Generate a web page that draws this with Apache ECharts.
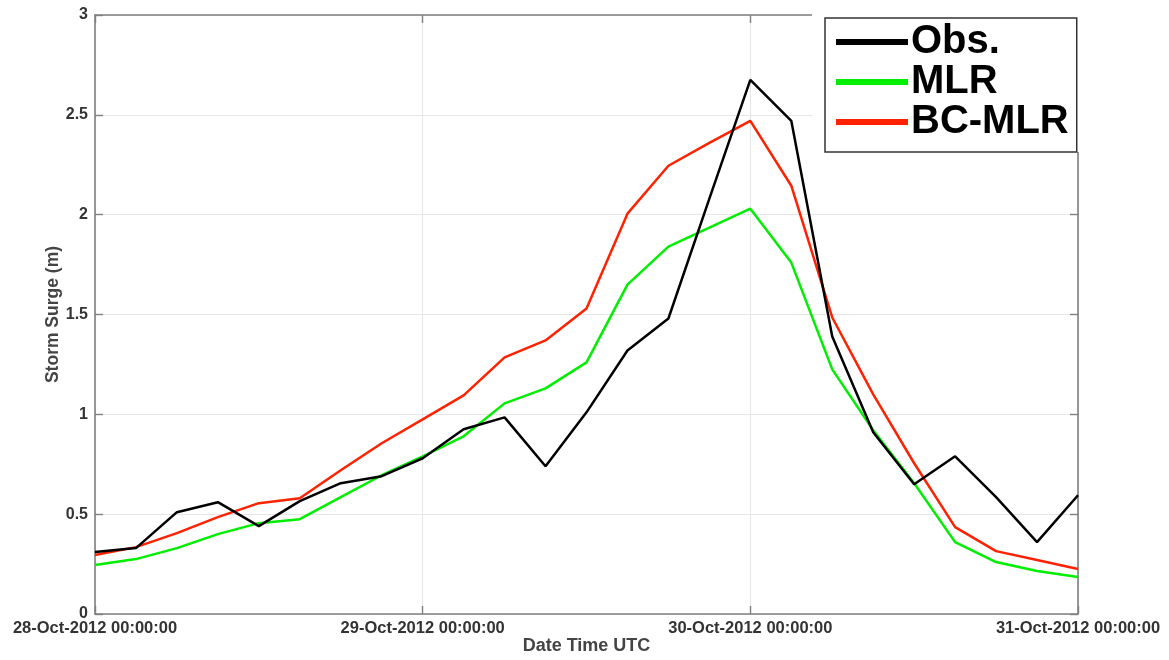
<!DOCTYPE html>
<html>
<head>
<meta charset="utf-8">
<title>Storm Surge</title>
<script src="https://cdn.jsdelivr.net/npm/echarts@6/dist/echarts.min.js"></script>
<style>
  html, body { margin: 0; padding: 0; background: #fff; }
  #chart { width: 1169px; height: 660px; }
</style>
</head>
<body>
<div id="chart"></div>
<script>
// Hours since 28-Oct-2012 00:00 UTC, 3-hourly samples
const hours = [0, 3, 6, 9, 12, 15, 18, 21, 24, 27, 30, 33, 36, 39, 42, 45, 48, 51, 54, 57, 60, 63, 66, 69, 72];

// Storm surge (m)
const obs   = [0.31, 0.33, 0.51, 0.56, 0.44, 0.565, 0.655, 0.69, 0.78, 0.925, 0.985, 0.74, 1.01, 1.32, 1.48, 2.08, 2.675, 2.47, 1.39, 0.91, 0.65, 0.79, 0.585, 0.36, 0.595];
const mlr   = [0.245, 0.275, 0.33, 0.40, 0.455, 0.475, 0.585, 0.695, 0.79, 0.89, 1.055, 1.13, 1.26, 1.65, 1.84, 1.935, 2.03, 1.76, 1.225, 0.92, 0.655, 0.36, 0.26, 0.215, 0.185];
const bcmlr = [0.295, 0.335, 0.405, 0.485, 0.555, 0.58, 0.72, 0.855, 0.975, 1.095, 1.285, 1.37, 1.53, 2.005, 2.245, 2.36, 2.47, 2.145, 1.485, 1.10, 0.755, 0.435, 0.315, 0.27, 0.225];

// Date tick labels every 24 h
const xTickHours  = [0, 24, 48, 72];
const xTickLabels = ['28-Oct-2012 00:00:00', '29-Oct-2012 00:00:00', '30-Oct-2012 00:00:00', '31-Oct-2012 00:00:00'];

const seriesNames  = ['Obs.', 'MLR', 'BC-MLR'];
const seriesColors = ['#000000', '#00ee00', '#ff2200'];

const pair = (ys) => hours.map((h, i) => [h, ys[i]]);

const FONT = '"Liberation Sans", Arial, Helvetica, sans-serif';
const AXIS_COLOR = '#808080';
const GRID_COLOR = '#e6e6e6';

const chart = echarts.init(document.getElementById('chart'), null, { renderer: 'canvas' });

const baseX = {
  type: 'value', min: 0, max: 72, interval: 24,
  axisLine: { show: true, onZero: false, lineStyle: { color: AXIS_COLOR, width: 1.6 } },
  axisTick: { show: true, inside: true, length: 8, lineStyle: { color: AXIS_COLOR, width: 1.4 } },
  splitLine: { show: false }
};
const baseY = {
  type: 'value', min: 0, max: 3, interval: 0.5,
  axisLine: { show: true, onZero: false, lineStyle: { color: AXIS_COLOR, width: 1.6 } },
  axisTick: { show: true, inside: true, length: 8, lineStyle: { color: AXIS_COLOR, width: 1.4 } },
  splitLine: { show: false }
};

chart.setOption({
  animation: false,
  backgroundColor: '#ffffff',
  grid: { left: 95, right: 91, top: 15, bottom: 46, containLabel: false, outerBoundsMode: 'none' },
  xAxis: [
    Object.assign({}, baseX, {
      position: 'bottom',
      name: 'Date Time UTC',
      nameLocation: 'middle',
      nameGap: 23,
      nameMoveOverlap: false,
      nameTextStyle: { fontFamily: FONT, fontSize: 18, fontWeight: 'bold', color: '#444' },
      axisLabel: {
        show: true, margin: 6, fontFamily: FONT, fontSize: 16.5, fontWeight: 'bold', color: '#333',
        formatter: (v) => { const k = xTickHours.indexOf(v); return k >= 0 ? xTickLabels[k] : ''; }
      },
      splitLine: { show: true, lineStyle: { color: GRID_COLOR, width: 1.2 } }
    }),
    Object.assign({}, baseX, {
      position: 'top',
      axisLabel: { show: false }
    })
  ],
  yAxis: [
    Object.assign({}, baseY, {
      position: 'left',
      name: 'Storm Surge (m)',
      nameLocation: 'middle',
      nameGap: 33,
      nameMoveOverlap: false,
      nameTextStyle: { fontFamily: FONT, fontSize: 17.5, fontWeight: 'bold', color: '#444' },
      axisLabel: { show: true, margin: 7, fontFamily: FONT, fontSize: 16, fontWeight: 'bold', color: '#333' },
      splitLine: { show: true, lineStyle: { color: GRID_COLOR, width: 1.2 } }
    }),
    Object.assign({}, baseY, {
      position: 'right',
      axisLabel: { show: false }
    })
  ],
  legend: {
    orient: 'vertical',
    left: 825, top: 18,
    padding: [4, 8, 10, 11],
    itemGap: 0,
    itemWidth: 72, itemHeight: 6,
    icon: 'rect',
    backgroundColor: '#ffffff',
    borderColor: '#333',
    borderWidth: 1.5,
    z: 10,
    textStyle: { fontFamily: FONT, fontSize: 40, fontWeight: 'bold', color: '#000', lineHeight: 39, padding: [0, 0, 0, -2] },
    data: seriesNames
  },
  graphic: [{
    type: 'rect', z: 9, silent: true,
    shape: { x: 812, y: 0, width: 290, height: 152 },
    style: { fill: '#ffffff' }
  }],
  series: [
    { name: seriesNames[0], type: 'line', data: pair(obs),   symbol: 'none', z: 5, lineStyle: { color: seriesColors[0], width: 2.5 }, itemStyle: { color: seriesColors[0] } },
    { name: seriesNames[1], type: 'line', data: pair(mlr),   symbol: 'none', z: 3, lineStyle: { color: seriesColors[1], width: 2.5 }, itemStyle: { color: seriesColors[1] } },
    { name: seriesNames[2], type: 'line', data: pair(bcmlr), symbol: 'none', z: 4, lineStyle: { color: seriesColors[2], width: 2.5 }, itemStyle: { color: seriesColors[2] } }
  ]
});
</script>
</body>
</html>
